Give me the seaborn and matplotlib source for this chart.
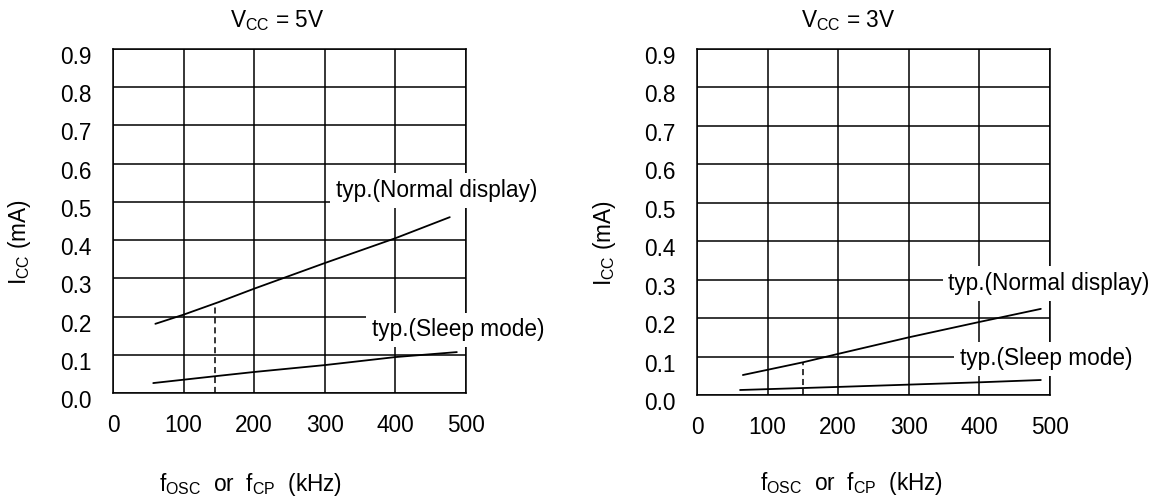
import numpy as np
import pandas as pd
import matplotlib
matplotlib.use("Agg")
import matplotlib.pyplot as plt
import matplotlib.transforms as mtransforms
import seaborn as sns

# ---------------- data ----------------
panel_titles = ["$V_{CC}$ = 5V", "$V_{CC}$ = 3V"]
x_ticks = [0, 100, 200, 300, 400, 500]
y_ticks = [0.0, 0.1, 0.2, 0.3, 0.4, 0.5, 0.6, 0.7, 0.8, 0.9]

normal_5v_f = [60, 100, 150, 200, 300, 400, 477]
normal_5v_i = [0.181, 0.205, 0.238, 0.273, 0.340, 0.405, 0.460]
sleep_5v_f = [57, 150, 200, 300, 400, 487]
sleep_5v_i = [0.026, 0.045, 0.055, 0.073, 0.094, 0.107]

normal_3v_f = [65, 150, 200, 300, 400, 487]
normal_3v_i = [0.052, 0.085, 0.107, 0.150, 0.190, 0.224]
sleep_3v_f = [61, 200, 300, 400, 487]
sleep_3v_i = [0.013, 0.021, 0.027, 0.033, 0.039]

marker_f = [145, 150]          # dashed reference frequency per panel
marker_i = [0.236, 0.085]      # current at that frequency (normal display)

series_labels = ["typ.(Normal display)", "typ.(Sleep mode)"]

# ---------------- style ----------------
sns.set_theme(style="white")
plt.rcParams["font.family"] = ["Liberation Sans", "DejaVu Sans"]
plt.rcParams["mathtext.fontset"] = "custom"
plt.rcParams["mathtext.rm"] = "Liberation Sans"
plt.rcParams["mathtext.it"] = "Liberation Sans"
plt.rcParams["mathtext.default"] = "regular"

FS = 16.3
W, H = 1158, 501
fig = plt.figure(figsize=(W / 100, H / 100), dpi=100)

axes_px = [(113, 49, 466, 393), (697, 49, 1050, 395)]
title_x = [0.465, 0.428]
ylab_pos = [(-0.265, 0.4375), (-0.263, 0.44)]
xlab_pos = [(0.391, -0.265), (0.439, -0.255)]
label_pos = [
    [(316, 0.53), (367, 0.165)],
    [(356, 0.29), (372, 0.094)],
]

data = [
    (normal_5v_f, normal_5v_i, sleep_5v_f, sleep_5v_i),
    (normal_3v_f, normal_3v_i, sleep_3v_f, sleep_3v_i),
]

for k in range(2):
    l, t, r, b = axes_px[k]
    ax = fig.add_axes([l / W, (H - b) / H, (r - l) / W, (b - t) / H])
    nf, ni, sf, si = data[k]
    df_n = pd.DataFrame({"f": nf, "i": ni})
    df_s = pd.DataFrame({"f": sf, "i": si})
    sns.lineplot(data=df_n, x="f", y="i", ax=ax, color="black", lw=1.3, zorder=2)
    sns.lineplot(data=df_s, x="f", y="i", ax=ax, color="black", lw=1.3, zorder=2)
    ax.plot([marker_f[k], marker_f[k]], [0, marker_i[k]], color="black",
            lw=1.1, ls=(0, (4, 2.5)), zorder=2)

    ax.set_xlim(0, 500)
    ax.set_ylim(0, 0.9)
    ax.set_xticks(x_ticks)
    ax.set_yticks(y_ticks)
    ax.set_xticklabels([str(v) for v in x_ticks])
    ax.set_yticklabels([f"{v:.1f}" for v in y_ticks])
    ax.tick_params(axis="both", length=0, labelsize=FS, colors="black")
    ax.tick_params(axis="x", pad=15)
    ax.tick_params(axis="y", pad=15.5)
    off = mtransforms.ScaledTranslation(0, -6 / 100, fig.dpi_scale_trans)
    for tk in ax.yaxis.get_major_ticks():
        tk.label1.set_transform(tk.label1.get_transform() + off)

    ax.set_axisbelow(True)
    ax.grid(True, color="black", lw=1.1)
    for sp in ax.spines.values():
        sp.set_color("black")
        sp.set_linewidth(1.1)
        sp.set_visible(True)

    ax.set_title(panel_titles[k], fontsize=FS, x=title_x[k], pad=16, color="black")
    ax.set_ylabel("I$_{CC}$ (mA)", fontsize=FS, color="black")
    ax.yaxis.set_label_coords(*ylab_pos[k])
    ax.yaxis.label.set_va("center")
    ax.yaxis.label.set_ha("center")
    ax.set_xlabel("f$_{OSC}$  or  f$_{CP}$  (kHz)", fontsize=FS, color="black")
    ax.xaxis.set_label_coords(*xlab_pos[k])
    ax.xaxis.label.set_va("center")

    for j, lab in enumerate(series_labels):
        x0, y0 = label_pos[k][j]
        ax.text(x0, y0, lab, fontsize=FS, ha="left", va="center", color="black",
                zorder=5, clip_on=False,
                bbox=dict(facecolor="white", edgecolor="none",
                          boxstyle="square,pad=0.25"))

fig.savefig("out.png", dpi=100, facecolor="white")
